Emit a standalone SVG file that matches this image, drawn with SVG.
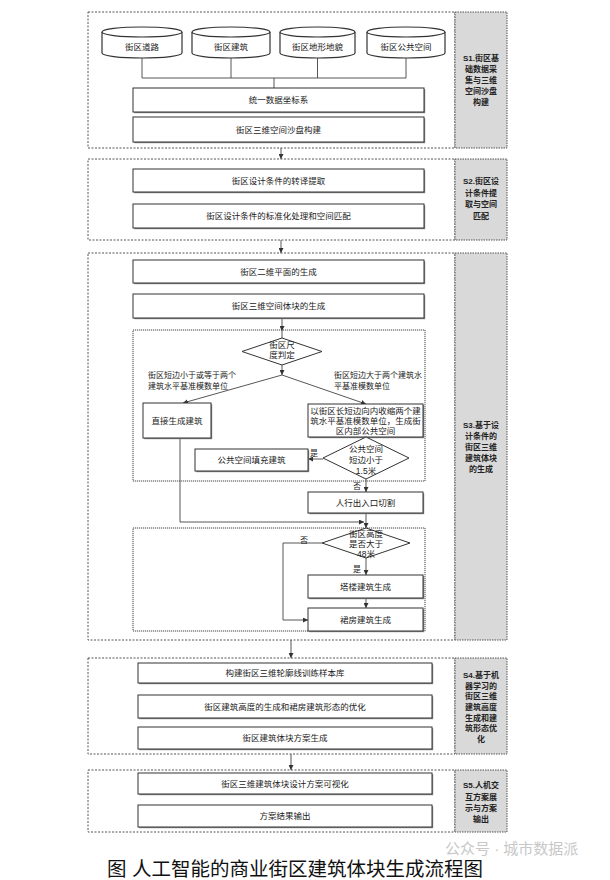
<svg xmlns="http://www.w3.org/2000/svg" width="610" height="880" viewBox="0 0 610 880">
<defs>
<marker id="ah" markerWidth="5" markerHeight="5" refX="5" refY="2.5" orient="auto" markerUnits="userSpaceOnUse">
<path d="M0,0 L5,2.5 L0,5 z" fill="#333"/>
</marker>
<style>
.sec{fill:none;stroke:#555;stroke-width:1;stroke-dasharray:2 1.5}
.inner{fill:none;stroke:#444;stroke-width:1;stroke-dasharray:1.2 0.8}
.panel{fill:#d9d9d9;stroke:#555;stroke-width:1;stroke-dasharray:1.5 1}
.box{fill:#fff;stroke:#333;stroke-width:1}
.sh{fill:#888}
.cyl{fill:#fff;stroke:#333;stroke-width:1.2}
.dia{fill:#fff;stroke:#333;stroke-width:1}
.t{font-family:"Liberation Sans","Noto Sans CJK SC",sans-serif;font-size:8.5px;fill:#1a1a1a;text-anchor:middle}
.ts{font-family:"Liberation Sans","Noto Sans CJK SC",sans-serif;font-size:8px;fill:#1a1a1a}
.pt{font-family:"Liberation Sans","Noto Sans CJK SC",sans-serif;font-size:8px;font-weight:bold;fill:#222;text-anchor:middle}
.ln{fill:none;stroke:#444;stroke-width:0.9}
.cap{font-family:"Liberation Sans","Noto Sans CJK SC",sans-serif;font-size:19.5px;fill:#111}
.wm{font-family:"Liberation Sans","Noto Sans CJK SC",sans-serif;font-size:15px;fill:#c8c8c8}
</style>
</defs>
<rect width="610" height="880" fill="#fff"/>

<!-- Sections -->
<g id="section1">
<rect class="sec" x="88" y="12" width="367" height="136"/>
<rect class="panel" x="455" y="12" width="52" height="136"/>
<text class="pt"><tspan x="481" y="61">S1.街区基</tspan><tspan x="481" y="72">础数据采</tspan><tspan x="481" y="83">集与三维</tspan><tspan x="481" y="94">空间沙盘</tspan><tspan x="481" y="105">构建</tspan></text>
</g>
<g id="section2">
<rect class="sec" x="88" y="159" width="367" height="81"/>
<rect class="panel" x="455" y="159" width="52" height="81"/>
<text class="pt"><tspan x="481" y="184">S2.街区设</tspan><tspan x="481" y="195.5">计条件提</tspan><tspan x="481" y="207">取与空间</tspan><tspan x="481" y="218.5">匹配</tspan></text>
</g>
<g id="section3">
<rect class="sec" x="88" y="253" width="367" height="387"/>
<rect class="panel" x="455" y="253" width="52" height="387"/>
<text class="pt"><tspan x="481" y="428">S3.基于设</tspan><tspan x="481" y="439">计条件的</tspan><tspan x="481" y="450">街区三维</tspan><tspan x="481" y="461">建筑体块</tspan><tspan x="481" y="472">的生成</tspan></text>
<rect class="inner" x="133" y="330" width="292" height="151"/>
<rect class="inner" x="133" y="528" width="292" height="103"/>
</g>
<g id="section4">
<rect class="sec" x="88" y="658" width="367" height="96"/>
<rect class="panel" x="455" y="658" width="52" height="96"/>
<text class="pt"><tspan x="481" y="678">S4.基于机</tspan><tspan x="481" y="688.7">器学习的</tspan><tspan x="481" y="699.3">街区三维</tspan><tspan x="481" y="710">建筑高度</tspan><tspan x="481" y="720.7">生成和建</tspan><tspan x="481" y="731.3">筑形态优</tspan><tspan x="481" y="742">化</tspan></text>
</g>
<g id="section5">
<rect class="sec" x="88" y="770" width="367" height="62"/>
<rect class="panel" x="455" y="770" width="52" height="62"/>
<text class="pt"><tspan x="481" y="788">S5.人机交</tspan><tspan x="481" y="799.5">互方案展</tspan><tspan x="481" y="811">示与方案</tspan><tspan x="481" y="822">输出</tspan></text>
</g>

<!-- Connectors -->
<g id="connectors">
<path class="ln" d="M142,58 V78 M231,58 V78 M317.5,58 V78 M406,58 V78 M142,78 H406 M274,78 V88"/>
<path class="ln" d="M281,148 V159" marker-end="url(#ah)"/>
<path class="ln" d="M281,240 V253" marker-end="url(#ah)"/>
<path class="ln" d="M282,318 V331" marker-end="url(#ah)"/>
<path class="ln" d="M282,331 V338"/>
<path class="ln" d="M282,365 V375" marker-end="url(#ah)"/>
<path class="ln" d="M282,375 L183,403" marker-end="url(#ah)"/>
<path class="ln" d="M282,375 L366,404" marker-end="url(#ah)"/>
<path class="ln" d="M323,459 H308" marker-end="url(#ah)"/>
<path class="ln" d="M366,479 V492" marker-end="url(#ah)"/>
<path class="ln" d="M180,438 V522 H364" marker-end="url(#ah)"/>
<path class="ln" d="M366,513 V528" marker-end="url(#ah)"/>
<path class="ln" d="M322,543 H283 V620 H308" marker-end="url(#ah)"/>
<path class="ln" d="M366,558 V575" marker-end="url(#ah)"/>
<path class="ln" d="M366,598 V608" marker-end="url(#ah)"/>
<path class="ln" d="M291,640 V658" marker-end="url(#ah)"/>
<path class="ln" d="M291,754 V770" marker-end="url(#ah)"/>
<text class="ts" x="310" y="456">是</text>
<text class="ts" x="353" y="489">否</text>
<text class="ts" x="300" y="543">否</text>
<text class="ts" x="353" y="572">是</text>
<text class="ts"><tspan x="148" y="378">街区短边小于或等于两个</tspan><tspan x="148" y="389">建筑水平基准模数单位</tspan></text>
<text class="ts"><tspan x="334" y="378">街区短边大于两个建筑水</tspan><tspan x="334" y="389">平基准模数单位</tspan></text>
</g>

<!-- Nodes -->
<g id="cyl1"><path class="cyl" d="M102,32 V53 A40,5 0 0 0 182,53 V32"/><ellipse class="cyl" cx="142" cy="32" rx="40" ry="5"/><text class="t" x="142" y="50">街区道路</text></g>
<g id="cyl2"><path class="cyl" d="M192,32 V53 A39,5 0 0 0 270,53 V32"/><ellipse class="cyl" cx="231" cy="32" rx="39" ry="5"/><text class="t" x="231" y="50">街区建筑</text></g>
<g id="cyl3"><path class="cyl" d="M280,32 V53 A37.5,5 0 0 0 355,53 V32"/><ellipse class="cyl" cx="317.5" cy="32" rx="37.5" ry="5"/><text class="t" x="317.5" y="50">街区地形地貌</text></g>
<g id="cyl4"><path class="cyl" d="M367,32 V53 A39,5 0 0 0 445,53 V32"/><ellipse class="cyl" cx="406" cy="32" rx="39" ry="5"/><text class="t" x="406" y="50">街区公共空间</text></g>

<g id="n_coord"><rect class="sh" x="134.2" y="89.2" width="291" height="24"/><rect class="box" x="133" y="88" width="291" height="24"/><text class="t" x="278.5" y="103">统一数据坐标系</text></g>
<g id="n_sandbox"><rect class="sh" x="134.2" y="118.2" width="291" height="25"/><rect class="box" x="133" y="117" width="291" height="25"/><text class="t" x="278.5" y="132.5">街区三维空间沙盘构建</text></g>

<g id="n_extract"><rect class="sh" x="134.2" y="170.2" width="291" height="23"/><rect class="box" x="133" y="169" width="291" height="23"/><text class="t" x="278.5" y="183.5">街区设计条件的转译提取</text></g>
<g id="n_standard"><rect class="sh" x="134.2" y="205.2" width="291" height="24"/><rect class="box" x="133" y="204" width="291" height="24"/><text class="t" x="278.5" y="219">街区设计条件的标准化处理和空间匹配</text></g>

<g id="n_2d"><rect class="sh" x="134.2" y="261.2" width="291" height="23"/><rect class="box" x="133" y="260" width="291" height="23"/><text class="t" x="278.5" y="274.5">街区二维平面的生成</text></g>
<g id="n_3d"><rect class="sh" x="134.2" y="295.2" width="291" height="24"/><rect class="box" x="133" y="294" width="291" height="24"/><text class="t" x="278.5" y="309">街区三维空间体块的生成</text></g>

<g id="d_scale"><polygon class="dia" points="282,338 322,351.5 282,365 242,351.5"/><text class="t"><tspan x="282" y="348">街区尺</tspan><tspan x="282" y="358">度判定</tspan></text></g>

<g id="n_direct"><rect class="sh" x="144.2" y="404.2" width="68" height="35"/><rect class="box" x="143" y="403" width="68" height="35"/><text class="t" x="177" y="423.5">直接生成建筑</text></g>
<g id="n_shrink"><rect class="sh" x="309.2" y="405.2" width="115" height="33"/><rect class="box" x="308" y="404" width="115" height="33"/><text class="t"><tspan x="365.5" y="414">以街区长短边向内收缩两个建</tspan><tspan x="365.5" y="424">筑水平基准模数单位，生成街</tspan><tspan x="365.5" y="434">区内部公共空间</tspan></text></g>

<g id="d_public"><polygon class="dia" points="366,437 409,458 366,479 323,458"/><text class="t"><tspan x="366" y="452">公共空间</tspan><tspan x="366" y="463">短边小于</tspan><tspan x="366" y="474">1.5米</tspan></text></g>
<g id="n_fill"><rect class="sh" x="196.2" y="450.2" width="113" height="22"/><rect class="box" x="195" y="449" width="113" height="22"/><text class="t" x="251.5" y="463">公共空间填充建筑</text></g>
<g id="n_entry"><rect class="sh" x="309.2" y="493.2" width="115" height="21"/><rect class="box" x="308" y="492" width="115" height="21"/><text class="t" x="365.5" y="505.5">人行出入口切割</text></g>

<g id="d_height"><polygon class="dia" points="366,528 410,543 366,558 322,543"/><text class="t"><tspan x="366" y="537">街区高度</tspan><tspan x="366" y="547">是否大于</tspan><tspan x="366" y="557">48米</tspan></text></g>
<g id="n_tower"><rect class="sh" x="309.2" y="576.2" width="115" height="23"/><rect class="box" x="308" y="575" width="115" height="23"/><text class="t" x="365.5" y="589.5">塔楼建筑生成</text></g>
<g id="n_podium"><rect class="sh" x="309.2" y="609.2" width="115" height="23"/><rect class="box" x="308" y="608" width="115" height="23"/><text class="t" x="365.5" y="622.5">裙房建筑生成</text></g>

<g id="n_sample"><rect class="sh" x="139.2" y="664.2" width="294" height="20"/><rect class="box" x="138" y="663" width="294" height="20"/><text class="t" x="285" y="676">构建街区三维轮廓线训练样本库</text></g>
<g id="n_opt"><rect class="sh" x="139.2" y="696.2" width="294" height="23"/><rect class="box" x="138" y="695" width="294" height="23"/><text class="t" x="285" y="709.5">街区建筑高度的生成和裙房建筑形态的优化</text></g>
<g id="n_scheme"><rect class="sh" x="139.2" y="728.2" width="294" height="22"/><rect class="box" x="138" y="727" width="294" height="22"/><text class="t" x="285" y="741">街区建筑体块方案生成</text></g>

<g id="n_visual"><rect class="sh" x="139.2" y="774.2" width="294" height="21"/><rect class="box" x="138" y="773" width="294" height="21"/><text class="t" x="285" y="786.5">街区三维建筑体块设计方案可视化</text></g>
<g id="n_output"><rect class="sh" x="139.2" y="806.2" width="294" height="22"/><rect class="box" x="138" y="805" width="294" height="22"/><text class="t" x="285" y="819">方案结果输出</text></g>

<g id="caption">
<text class="wm" x="445" y="854">公众号 · 城市数据派</text>
<text class="cap" x="107" y="876">图 人工智能的商业街区建筑体块生成流程图</text>
</g>
</svg>
